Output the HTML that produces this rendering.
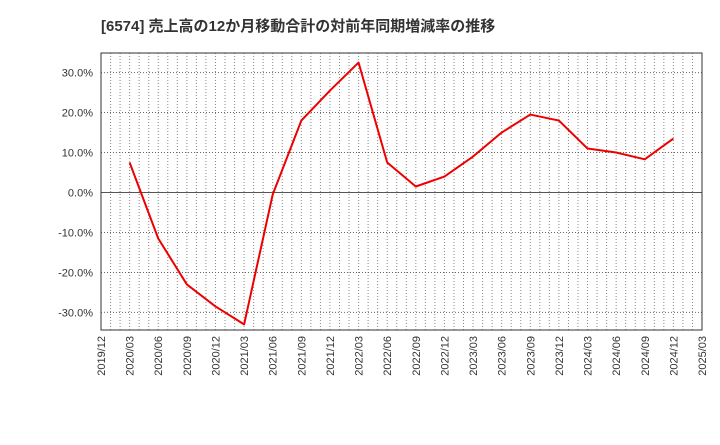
<!DOCTYPE html>
<html><head><meta charset="utf-8"><style>
body{margin:0;background:#fff;width:720px;height:440px;overflow:hidden}
svg{font-family:"Liberation Sans","Noto Sans CJK JP",sans-serif}
</style></head><body>
<svg id="c" width="720" height="440">
<text x="101" y="31" font-size="15" font-weight="bold" fill="#333">[6574]  売上高の12か月移動合計の対前年同期増減率の推移</text>
<g id="grid"></g><g id="axes"></g><g id="series"></g>
</svg>
<script>
const categories=["2019/12","2020/03","2020/06","2020/09","2020/12","2021/03","2021/06","2021/09","2021/12","2022/03","2022/06","2022/09","2022/12","2023/03","2023/06","2023/09","2023/12","2024/03","2024/06","2024/09","2024/12","2025/03"];
const values=[null,7.5,-11.5,-23,-28.5,-33,-0.5,18,25.5,32.5,7.5,1.5,4,9,15,19.5,18,11,10,8.3,13.5,null];
const yTicks=[30,20,10,0,-10,-20,-30];
const L=101,R=702,T=53,B=330,yMin=-34.4,yMax=34.9;
const NS="http://www.w3.org/2000/svg";
const xs=i=>L+(R-L)*i/(categories.length-1);
const ys=v=>B-(v-yMin)/(yMax-yMin)*(B-T);
function mk(t,a,p){const e=document.createElementNS(NS,t);for(const k in a)e.setAttribute(k,a[k]);p.appendChild(e);return e;}
const g=document.getElementById('grid'),ax=document.getElementById('axes'),s=document.getElementById('series');
for(let m=1;m<(categories.length-1)*3;m++){
 const x=xs(m/3);
 const l=mk('line',{x1:x,x2:x,y1:T,y2:B,stroke:'#888','stroke-dasharray':'1,2','stroke-width':1},g);
 
 
}
categories.forEach((c,i)=>{
 const x=xs(i);
 const t=mk('text',{x:0,y:0,'font-size':11,fill:'#333','text-anchor':'end',transform:`translate(${x+4},${B+6}) rotate(-90)`},ax);
 t.textContent=c;
 
 
});
yTicks.forEach(v=>{
 const y=ys(v);
 const l=mk('line',{x1:L,x2:R,y1:y,y2:y,stroke:v===0?'#555':'#666','stroke-dasharray':v===0?'':'1,2','stroke-width':1},g);
 
 
 const t=mk('text',{x:L-8,y:y+4,'font-size':11,fill:'#333','text-anchor':'end'},ax);
 t.textContent=v.toFixed(1)+'%';
 
 
});
const f=mk('rect',{x:L,y:T,width:R-L,height:B-T,fill:'none',stroke:'#333'},ax);


let d='';values.forEach((v,i)=>{if(v===null)return;d+=(d?'L':'M')+xs(i)+','+ys(v);});
const p=mk('path',{d:d,fill:'none',stroke:'#ee0000','stroke-width':2,'stroke-linejoin':'round'},s);


</script>
</body></html>
